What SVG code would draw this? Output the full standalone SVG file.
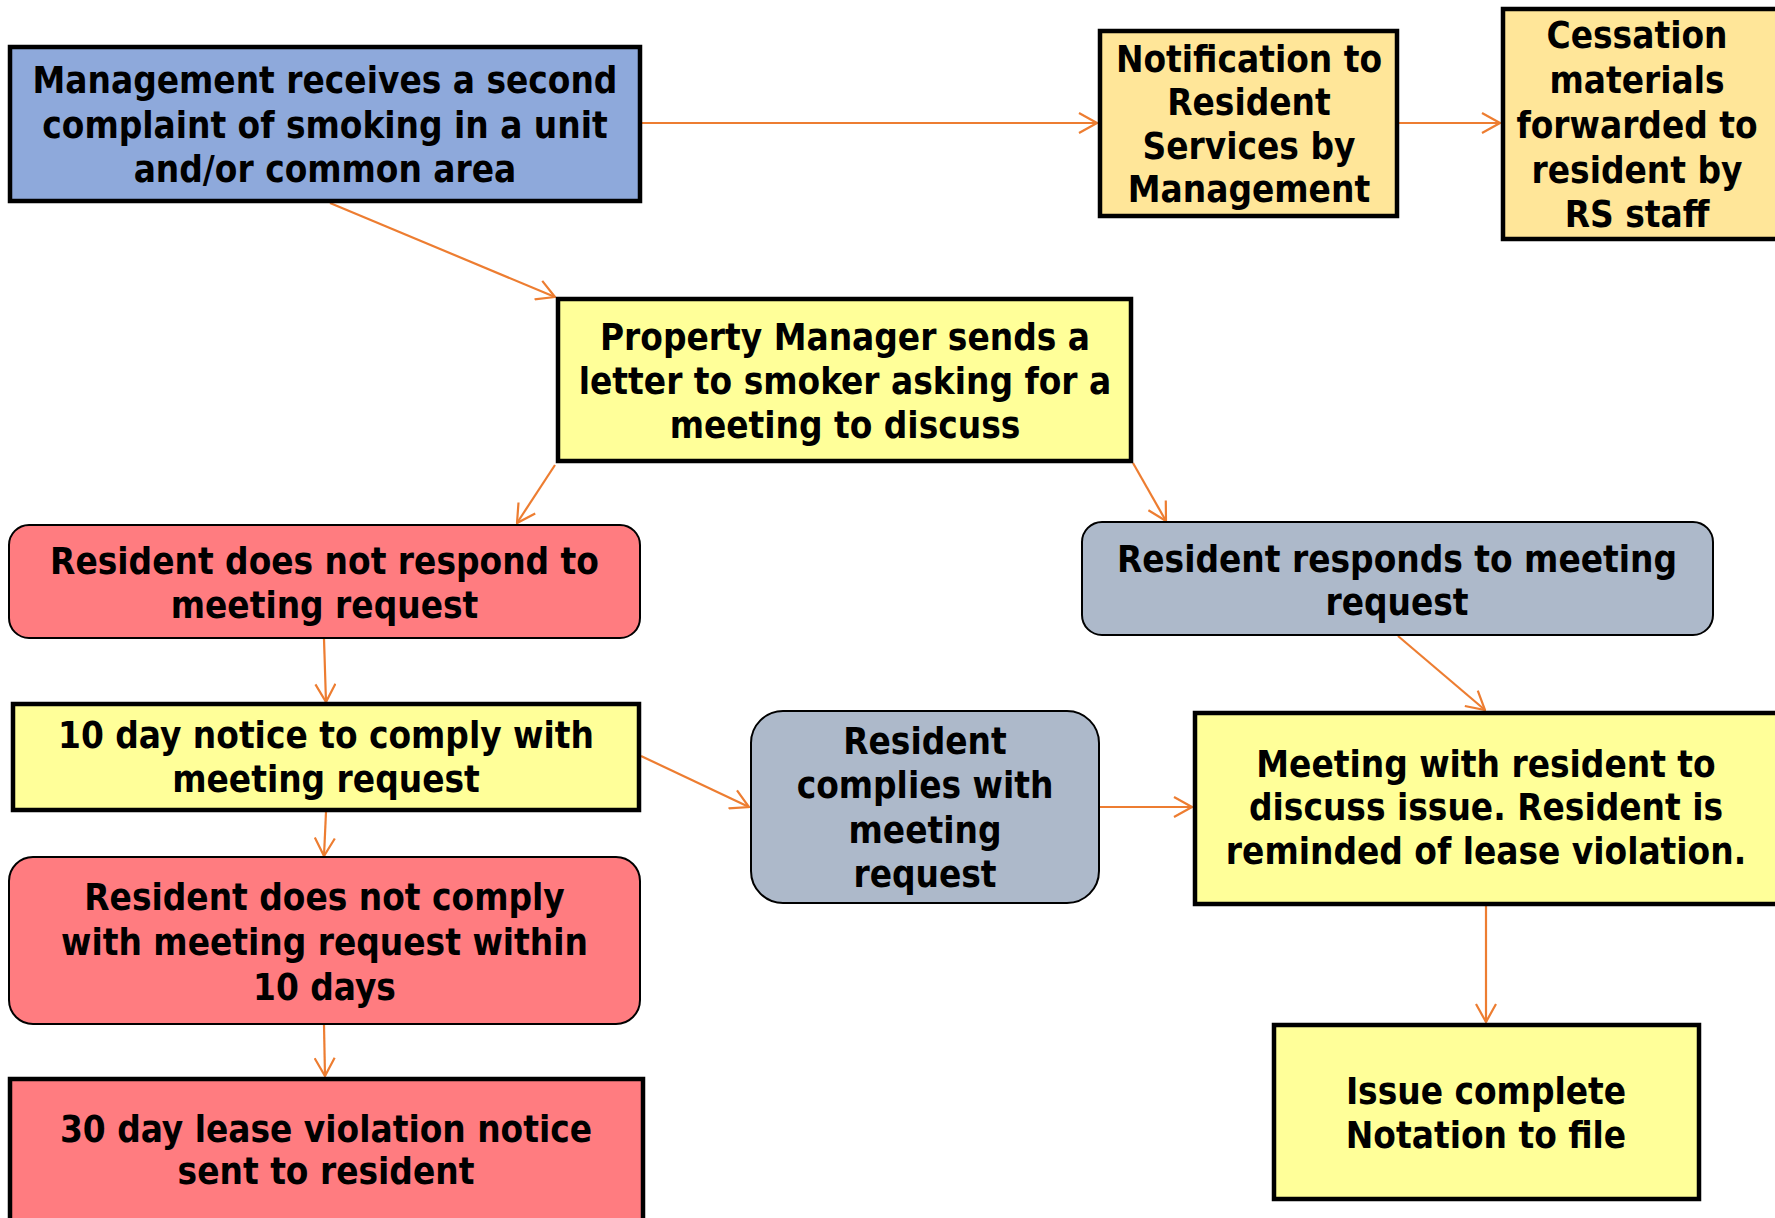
<svg xmlns="http://www.w3.org/2000/svg" width="1775" height="1218" viewBox="0 0 1775 1218">
<defs>
<style>
.t{font-family:"DejaVu Sans Condensed","DejaVu Sans",sans-serif;font-weight:bold;font-size:36.6px;fill:#000;text-anchor:middle}
.thick{stroke:#000;stroke-width:4.5}
.thin{stroke:#000;stroke-width:2}
.blue{fill:#8EA9DB}
.gold{fill:#FFE699}
.yel{fill:#FFFF99}
.red{fill:#FF7C80}
.grey{fill:#ADB9CA}
.c{fill:none;stroke:#ED7D31;stroke-width:2.2;marker-end:url(#ah)}
</style>
<marker id="ah" viewBox="0 0 20 22" refX="19" refY="11" markerWidth="20" markerHeight="22" markerUnits="userSpaceOnUse" orient="auto">
<path d="M1,1 L19,11 L1,21" fill="none" stroke="#ED7D31" stroke-width="2.2"/>
</marker>
</defs>
<rect width="1775" height="1218" fill="#fff"/>
<g id="connectors">
<line class="c" x1="642" y1="123" x2="1097" y2="123"/>
<line class="c" x1="1399" y1="123" x2="1500" y2="123"/>
<line class="c" x1="330" y1="203" x2="555" y2="297"/>
<line class="c" x1="555" y1="465" x2="517" y2="523"/>
<line class="c" x1="1133" y1="463" x2="1166" y2="521"/>
<line class="c" x1="324" y1="639" x2="326" y2="702"/>
<line class="c" x1="326" y1="812" x2="324" y2="856"/>
<line class="c" x1="324" y1="1025" x2="325" y2="1076"/>
<line class="c" x1="641" y1="756" x2="749" y2="807"/>
<line class="c" x1="1100" y1="807" x2="1192" y2="807"/>
<line class="c" x1="1398" y1="636" x2="1485" y2="710"/>
<line class="c" x1="1486" y1="906" x2="1486" y2="1022"/>
</g>
<g id="n1">
<rect class="blue thick" x="10" y="47" width="630" height="154"/>
<text class="t"><tspan x="325" y="93">Management receives a second</tspan><tspan x="325" y="138">complaint of smoking in a unit</tspan><tspan x="325" y="182">and/or common area</tspan></text>
</g>
<g id="n2">
<rect class="gold thick" x="1100" y="31" width="297" height="185"/>
<text class="t"><tspan x="1249" y="72">Notification to</tspan><tspan x="1249" y="115">Resident</tspan><tspan x="1249" y="159">Services by</tspan><tspan x="1249" y="202">Management</tspan></text>
</g>
<g id="n3">
<rect class="gold thick" x="1503" y="9" width="280" height="230"/>
<text class="t"><tspan x="1637" y="48">Cessation</tspan><tspan x="1637" y="93">materials</tspan><tspan x="1637" y="138">forwarded to</tspan><tspan x="1637" y="183">resident by</tspan><tspan x="1637" y="227">RS staff</tspan></text>
</g>
<g id="n4">
<rect class="yel thick" x="558" y="299" width="573" height="162"/>
<text class="t"><tspan x="845" y="350">Property Manager sends a</tspan><tspan x="845" y="394">letter to smoker asking for a</tspan><tspan x="845" y="438">meeting to discuss</tspan></text>
</g>
<g id="n5">
<rect class="red thin" x="9" y="525" width="631" height="113" rx="20"/>
<text class="t"><tspan x="324.5" y="574">Resident does not respond to</tspan><tspan x="324.5" y="618">meeting request</tspan></text>
</g>
<g id="n6">
<rect class="grey thin" x="1082" y="522" width="631" height="113" rx="20"/>
<text class="t"><tspan x="1397" y="572">Resident responds to meeting</tspan><tspan x="1397" y="615">request</tspan></text>
</g>
<g id="n7">
<rect class="yel thick" x="13" y="704" width="626" height="106"/>
<text class="t"><tspan x="326" y="748">10 day notice to comply with</tspan><tspan x="326" y="792">meeting request</tspan></text>
</g>
<g id="n8">
<rect class="grey thin" x="751" y="711" width="348" height="192" rx="32"/>
<text class="t"><tspan x="925" y="754">Resident</tspan><tspan x="925" y="798">complies with</tspan><tspan x="925" y="843">meeting</tspan><tspan x="925" y="887">request</tspan></text>
</g>
<g id="n9">
<rect class="yel thick" x="1195" y="713" width="590" height="191"/>
<text class="t"><tspan x="1486" y="777">Meeting with resident to</tspan><tspan x="1486" y="820">discuss issue. Resident is</tspan><tspan x="1486" y="864">reminded of lease violation.</tspan></text>
</g>
<g id="n10">
<rect class="red thin" x="9" y="857" width="631" height="167" rx="24"/>
<text class="t"><tspan x="324.5" y="910">Resident does not comply</tspan><tspan x="324.5" y="955">with meeting request within</tspan><tspan x="324.5" y="1000">10 days</tspan></text>
</g>
<g id="n11">
<rect class="red thick" x="10" y="1079" width="633" height="150"/>
<text class="t"><tspan x="326" y="1142">30 day lease violation notice</tspan><tspan x="326" y="1184">sent to resident</tspan></text>
</g>
<g id="n12">
<rect class="yel thick" x="1274" y="1025" width="425" height="174"/>
<text class="t"><tspan x="1486" y="1104">Issue complete</tspan><tspan x="1486" y="1148">Notation to file</tspan></text>
</g>
</svg>
